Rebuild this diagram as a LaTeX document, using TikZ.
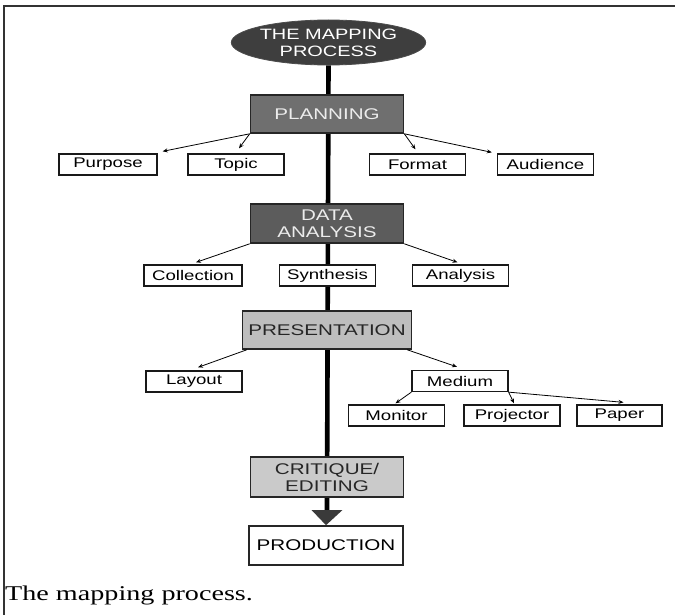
\documentclass[tikz,border=0pt]{standalone}
\usepackage{fontspec}
\setmainfont{Liberation Sans}[FakeStretch=1.33]
\newfontfamily\capfont{Liberation Serif}[FakeStretch=1.34]
\usetikzlibrary{arrows.meta,shapes.geometric}
\pgfdeclarelayer{background}
\pgfsetlayers{background,main}
\definecolor{titlec}{HTML}{3E3E3E}
\definecolor{planc}{HTML}{6F6F6F}
\definecolor{datac}{HTML}{5C5C5C}
\definecolor{presc}{HTML}{BEBEBE}
\definecolor{critc}{HTML}{CACACA}
\definecolor{headc}{HTML}{3A3A3A}
\definecolor{lighttext}{HTML}{ECECEC}
\begin{document}
\begin{tikzpicture}[x=1pt,y=-1pt,
  bigbox/.style={draw=black!85, line width=1.6pt, minimum width=153pt, minimum height=38pt,
    inner sep=0pt, align=center, font=\fontsize{15.5}{17}\selectfont},
  smallbox/.style={draw=black!90, line width=1.3pt, fill=white, minimum width=96pt,
    minimum height=21pt, inner sep=0pt, font=\fontsize{14}{16}\selectfont},
  link/.style={-{Stealth[length=5pt,width=4pt]}, line width=0.8pt}]
\useasboundingbox (0,0) rectangle (675,615);

% title
\node[ellipse, fill=titlec, draw=black!70, line width=0.8pt, minimum width=173pt, minimum height=45pt,
  inner sep=0pt, align=center, text=white, font=\fontsize{15}{17}\selectfont] (title) at (328.5,42.5)
  {THE MAPPING\\PROCESS};

% main boxes
\node[bigbox, fill=planc, text=lighttext] (plan) at (327,114) {PLANNING};
\node[bigbox, fill=datac, text=lighttext, minimum height=39pt] (data) at (327,223.5) {DATA\\ANALYSIS};
\node[bigbox, fill=presc, text=black!85, minimum width=169pt] (pres) at (327,330) {PRESENTATION};
\node[bigbox, fill=critc, text=black!85, minimum height=40pt] (crit) at (327,477) {CRITIQUE/\\EDITING};
\node[bigbox, fill=white, text=black, minimum width=154pt, minimum height=39pt] (prod) at (326,545.5) {PRODUCTION};

% planning children
\node[smallbox, minimum width=98pt] (purpose) at (108,164.5) {Purpose};
\node[smallbox] (topic) at (236,164.5) {Topic};
\node[smallbox] (format) at (417.5,164.5) {Format};
\node[smallbox] (aud) at (545.5,164.5) {Audience};

% data analysis children
\node[smallbox, minimum width=98pt] (coll) at (193,275.5) {Collection};
\node[smallbox] (synth) at (327.5,275.5) {Synthesis};
\node[smallbox] (anal) at (460.5,275.5) {Analysis};

% presentation children
\node[smallbox] (layout) at (194,381.5) {Layout};
\node[smallbox] (med) at (460,381) {Medium};
\node[smallbox] (monitor) at (396.5,415.5) {Monitor};
\node[smallbox] (proj) at (512,415.5) {Projector};
\node[smallbox, minimum width=85pt] (paper) at (619.5,415.5) {Paper};

% caption
\node[anchor=base west, inner sep=0pt, font=\capfont\fontsize{21}{24}\selectfont] (cap) at (5,600)
  {The mapping process.};

% spine and big arrowhead
\coordinate (headtop) at (327,510);
\begin{pgfonlayer}{background}
  \fill[white] (0,0) rectangle (675,615);
  \draw[line width=1.5pt, black!80] (675,6) -- (4,6) -- (4,615);
  \draw[line width=4.6pt, black] (title.south) -- (headtop);
\end{pgfonlayer}
\fill[headc] ([xshift=-15.5pt]headtop) -- ([xshift=15.5pt]headtop) -- (prod.north) -- cycle;

% connectors
\draw[link] (plan.south west) -- ([xshift=5pt,yshift=2pt]purpose.north east);
\draw[link] (plan.south west) -- ([xshift=3pt,yshift=5pt]topic.north);
\draw[link] (plan.south east) -- ([xshift=-2pt,yshift=4pt]format.north);
\draw[link] (plan.south east) -- ([xshift=-5pt,yshift=1pt]aud.north west);

\draw[link] (data.south west) -- ([xshift=3pt,yshift=2pt]coll.north);
\draw[link] (data.south east) -- ([xshift=-3pt,yshift=2pt]anal.north);

\draw[link] ([xshift=5pt]pres.south west) -- ([xshift=4pt,yshift=3pt]layout.north);
\draw[link] ([xshift=-5pt]pres.south east) -- ([xshift=-3pt,yshift=3pt]med.north);

\draw[link] (med.south west) -- ([xshift=-1pt,yshift=1pt]monitor.north);
\draw[link] (med.south east) -- ([xshift=2pt,yshift=1pt]proj.north);
\draw[link] (med.south east) -- ([xshift=4pt,yshift=2pt]paper.north);
\end{tikzpicture}
\end{document}
